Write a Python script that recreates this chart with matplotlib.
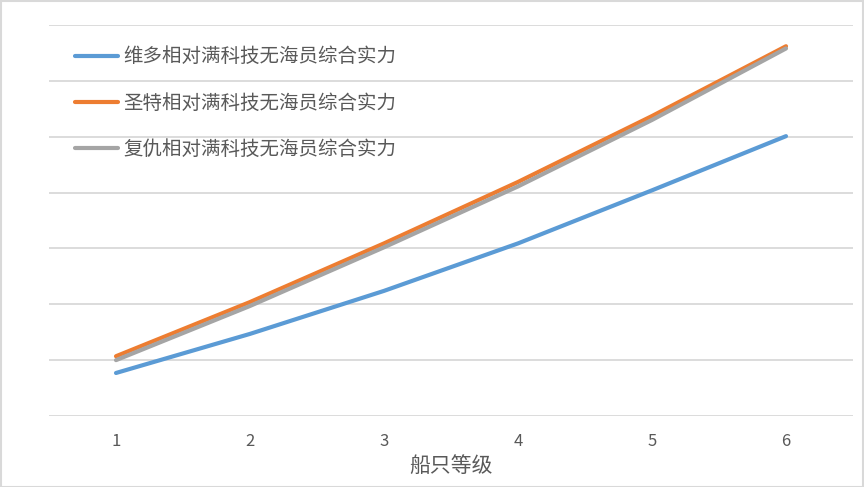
import matplotlib
matplotlib.use("Agg")
import matplotlib.pyplot as plt
from matplotlib.patches import Rectangle

plt.rcParams['font.family'] = ['Noto Sans CJK SC', 'DejaVu Sans']

levels = [1, 2, 3, 4, 5, 6]
weiduo = [0.77, 1.47, 2.24, 3.09, 4.04, 5.01]
shengte = [1.07, 2.04, 3.09, 4.19, 5.37, 6.62]
fuchou = [1.00, 1.97, 3.02, 4.11, 5.30, 6.58]
names = ['维多相对满科技无海员综合实力', '圣特相对满科技无海员综合实力', '复仇相对满科技无海员综合实力']
colors = ['#5B9BD5', '#ED7D31', '#A5A5A5']

fig = plt.figure(figsize=(8.64, 4.87), dpi=100)
ax = fig.add_axes([49/864, 71/487, 804/864, 391/487])

for ys, name, c in zip([weiduo, shengte, fuchou], names, colors):
    ax.plot(levels, ys, color=c, lw=3, label=name, solid_capstyle='round')

ax.set_xlim(0.5, 6.5)
ax.set_ylim(0, 7)
ax.set_yticks(range(0, 8))
ax.set_yticklabels([])
ax.set_xticks(levels)
ax.tick_params(axis='both', length=0, labelsize=12, colors='#595959', pad=12)
ax.grid(axis='y', color='#d9d9d9', lw=1.3)
ax.set_axisbelow(True)
for s in ax.spines.values():
    s.set_visible(False)
ax.set_xlabel('船只等级', fontsize=15, color='#595959', labelpad=4)

leg = ax.legend(loc='upper left', bbox_to_anchor=(0.011, 0.99), frameon=False,
                fontsize=14, handlelength=2.2, handletextpad=0.25, labelspacing=1.3)
for t in leg.get_texts():
    t.set_color('#595959')

fig.patches.append(Rectangle((0.001, 0.001), 0.998, 0.997, transform=fig.transFigure,
                             fill=False, edgecolor='#d9d9d9', lw=1.5))

fig.savefig('out.png', dpi=100)
